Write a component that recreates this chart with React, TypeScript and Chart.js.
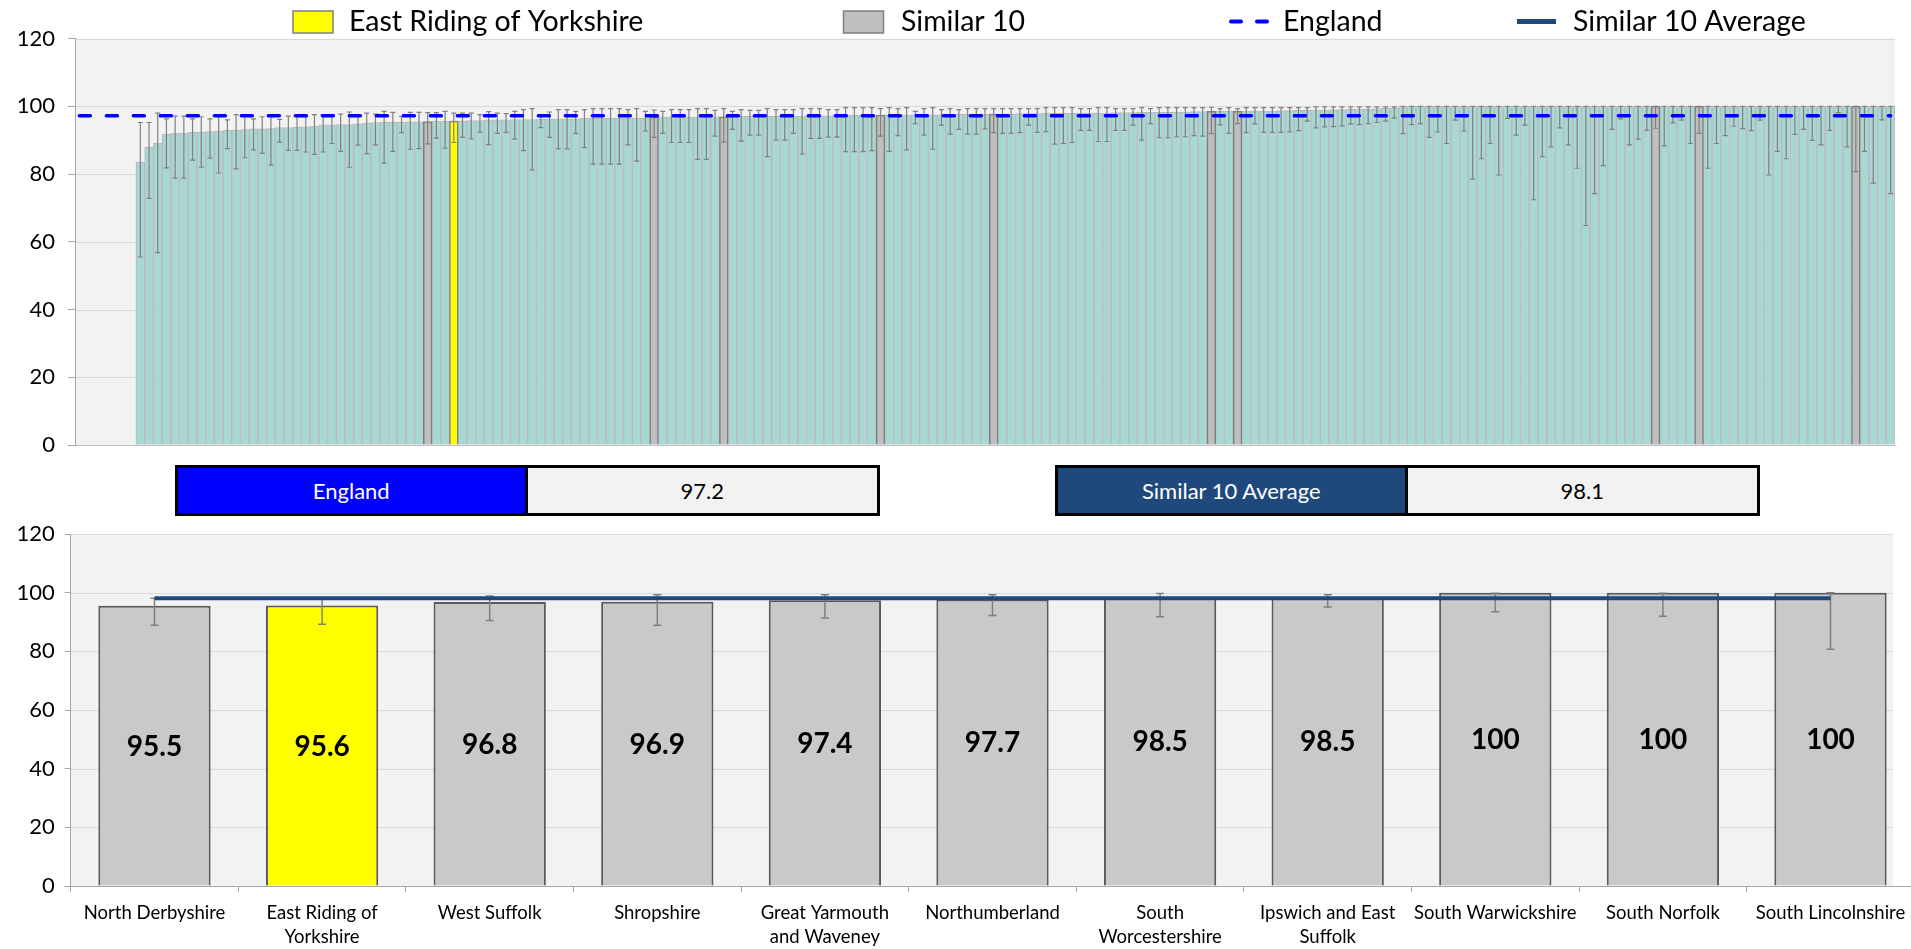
import React, { useEffect, useRef } from "react";
import { Chart, registerables } from "chart.js";

Chart.register(...registerables);

const FONT = "Lato, 'Open Sans', sans-serif";

// ---------------- data ----------------
const englandValue = 97.2;
const similarAverage = 98.1;

// top chart: all areas, sorted ascending (first 7 categories have no data)
const topValues: (number | null)[] = [
  null, null, null, null, null, null, null, 83.5, 87.9, 89.1,
  91.7, 92.0, 92.1, 92.3, 92.4, 92.5, 92.7, 92.9, 93.0, 93.1,
  93.3, 93.3, 93.4, 93.7, 93.7, 93.8, 93.9, 94.1, 94.5, 94.5,
  94.6, 94.6, 94.8, 95.0, 95.2, 95.3, 95.3, 95.3, 95.4, 95.4,
  95.5, 95.6, 95.6, 95.6, 95.7, 95.8, 95.8, 96.0, 96.0, 96.0,
  96.1, 96.1, 96.1, 96.2, 96.2, 96.2, 96.3, 96.3, 96.4, 96.4,
  96.4, 96.4, 96.4, 96.5, 96.5, 96.6, 96.8, 96.8, 96.8, 96.8,
  96.8, 96.8, 96.8, 96.9, 96.9, 96.9, 97.0, 97.0, 97.0, 97.0,
  97.1, 97.1, 97.1, 97.1, 97.2, 97.2, 97.2, 97.2, 97.3, 97.3,
  97.3, 97.3, 97.4, 97.4, 97.4, 97.4, 97.5, 97.5, 97.5, 97.5,
  97.6, 97.6, 97.6, 97.6, 97.7, 97.7, 97.7, 97.7, 97.8, 97.8,
  97.8, 97.9, 97.9, 97.9, 97.9, 98.0, 98.0, 98.0, 98.0, 98.1,
  98.1, 98.1, 98.2, 98.2, 98.2, 98.2, 98.3, 98.3, 98.4, 98.4,
  98.5, 98.5, 98.5, 98.5, 98.6, 98.6, 98.6, 98.6, 98.7, 98.7,
  98.8, 98.8, 98.9, 98.9, 99.0, 99.0, 99.1, 99.2, 99.2, 99.3,
  99.4, 99.5, 100, 100, 100, 100, 100, 100, 100, 100,
  100, 100, 100, 100, 100, 100, 100, 100, 100, 100,
  100, 100, 100, 100, 100, 100, 100, 100, 100, 100,
  100, 100, 100, 100, 100, 100, 100, 100, 100, 100,
  100, 100, 100, 100, 100, 100, 100, 100, 100, 100,
  100, 100, 100, 100, 100, 100, 100, 100, 100,
];

const topLower: (number | null)[] = [
  null, null, null, null, null, null, null, 55.5, 72.8, 56.8,
  81.8, 78.8, 78.8, 84.1, 82.0, 84.7, 80.3, 87.5, 81.5, 84.8,
  87.1, 86.1, 82.6, 89.4, 87.0, 87.0, 86.5, 85.8, 86.5, 89.0,
  86.7, 82.0, 88.5, 86.0, 88.6, 83.2, 86.7, 92.2, 87.3, 87.5,
  88.9, 90.6, 87.6, 89.3, 90.8, 90.4, 92.3, 88.7, 92.0, 92.3,
  90.3, 86.9, 81.2, 93.7, 90.8, 87.4, 87.4, 92.0, 87.8, 82.9,
  82.9, 82.9, 82.9, 88.6, 83.8, 92.7, 90.8, 92.0, 89.3, 89.3,
  89.3, 84.3, 84.3, 91.2, 89.4, 93.2, 89.7, 91.5, 91.5, 85.1,
  90.0, 90.0, 92.0, 85.9, 90.5, 90.5, 90.9, 90.9, 86.6, 86.6,
  86.6, 86.9, 91.2, 86.7, 91.3, 87.1, 94.9, 91.5, 87.3, 94.4,
  91.8, 93.2, 91.8, 91.8, 93.3, 92.2, 92.0, 92.0, 92.2, 94.4,
  92.3, 92.5, 88.8, 89.0, 89.3, 92.9, 92.9, 89.6, 89.6, 92.9,
  92.9, 94.4, 90.0, 94.9, 90.7, 90.7, 91.0, 91.0, 91.3, 91.2,
  91.9, 94.5, 92.0, 94.9, 92.2, 94.8, 92.3, 92.3, 92.3, 92.4,
  92.8, 95.6, 93.6, 93.9, 94.0, 94.2, 94.7, 94.6, 94.9, 95.2,
  95.6, 96.5, 91.9, 94.6, 94.9, 90.8, 92.4, 89.0, 95.9, 92.7,
  78.5, 84.5, 89.0, 79.7, 96.4, 91.5, 94.4, 72.4, 85.1, 88.0,
  93.6, 88.6, 81.7, 64.8, 74.2, 82.5, 93.2, 96.3, 88.6, 90.3,
  92.9, 93.5, 88.3, 95.1, 95.9, 89.0, 92.0, 81.7, 89.0, 91.3,
  94.1, 93.4, 92.8, 95.9, 79.7, 86.7, 84.5, 91.7, 93.2, 89.9,
  88.6, 92.9, 98.1, 88.0, 80.7, 86.7, 77.3, 96.0, 74.2,
];

const topUpper: (number | null)[] = [
  null, null, null, null, null, null, null, 95.2, 95.2, 98.0,
  96.3, 97.1, 97.1, 96.3, 96.9, 96.3, 96.9, 96.0, 97.5, 97.1,
  96.3, 96.9, 97.5, 96.1, 97.1, 97.1, 96.9, 97.5, 97.5, 97.5,
  97.7, 98.3, 97.5, 98.0, 97.7, 98.5, 98.2, 97.0, 98.2, 98.2,
  98.1, 98.1, 98.5, 98.0, 98.0, 98.0, 97.5, 98.4, 98.0, 97.8,
  98.5, 99.0, 99.3, 97.0, 98.3, 99.0, 99.0, 98.5, 99.0, 99.3,
  99.3, 99.3, 99.3, 99.0, 99.3, 98.5, 98.9, 98.5, 99.0, 99.0,
  99.0, 99.3, 99.3, 98.8, 99.3, 98.5, 99.0, 98.8, 98.8, 99.3,
  99.0, 99.0, 99.0, 99.3, 99.3, 99.3, 99.0, 99.0, 99.6, 99.6,
  99.6, 99.6, 99.3, 99.6, 99.3, 99.6, 98.5, 99.3, 99.6, 99.0,
  99.3, 99.0, 99.3, 99.3, 99.3, 99.3, 99.3, 99.3, 99.3, 99.3,
  99.3, 99.6, 99.6, 99.6, 99.6, 99.3, 99.3, 99.6, 99.6, 99.3,
  99.3, 99.3, 99.6, 99.3, 99.6, 99.6, 99.6, 99.6, 99.6, 99.6,
  99.7, 99.3, 99.6, 99.3, 99.6, 99.6, 99.6, 99.6, 99.6, 99.6,
  99.6, 99.6, 99.8, 99.8, 99.8, 99.8, 99.8, 99.8, 99.8, 99.8,
  99.8, 99.8, 100, 100, 100, 100, 100, 100, 100, 100,
  100, 100, 100, 100, 100, 100, 100, 100, 100, 100,
  100, 100, 100, 100, 100, 100, 100, 100, 100, 100,
  100, 100, 100, 100, 100, 100, 100, 100, 100, 100,
  100, 100, 100, 100, 100, 100, 100, 100, 100, 100,
  100, 100, 100, 100, 100, 100, 100, 100, 100,
];

const similarIndexes = [40, 66, 74, 92, 105, 130, 133, 181, 186, 204];
const selectedIndex = 43;

// bottom chart: the similar 10 plus the selected area
const selectedName = "East Riding of Yorkshire";
const bottomLabels: string[][] = [
  ["North Derbyshire"],
  ["East Riding of", "Yorkshire"],
  ["West Suffolk"],
  ["Shropshire"],
  ["Great Yarmouth", "and Waveney"],
  ["Northumberland"],
  ["South", "Worcestershire"],
  ["Ipswich and East", "Suffolk"],
  ["South Warwickshire"],
  ["South Norfolk"],
  ["South Lincolnshire"],
];
const bottomValues = [95.5, 95.6, 96.8, 96.9, 97.4, 97.7, 98.5, 98.5, 100, 100, 100];
const bottomLower = [88.9, 89.2, 90.5, 88.9, 91.4, 92.2, 91.8, 95.1, 93.5, 92.0, 80.7];
const bottomUpper = [98.1, 98.0, 98.9, 99.3, 99.3, 99.3, 99.7, 99.3, 99.8, 99.8, 100];

const legendLabels = ["East Riding of Yorkshire", "Similar 10", "England", "Similar 10 Average"];

// ---------------- colours ----------------
const C_TEAL = "#A7D8D3";
const C_TEAL_BORDER = "#C0B6B9";
const C_GREY = "#BFBFBF";
const C_GREY_BAR = "#C9C9C9";
const C_YELLOW = "#FFFF00";
const C_ENGLAND = "#0000FF";
const C_AVG = "#1F497D";
const C_ERR = "#808080";
const C_PLOT = "#F2F2F2";
const C_GRID = "#D9D9D9";
const C_AXIS = "#A6A6A6";

function plotBackground(maxRight?: number) {
  return {
    id: "plotBg",
    beforeDraw(chart: any) {
      const { ctx, chartArea: a, scales } = chart;
      const right = maxRight ? Math.min(a.right, maxRight) : a.right;
      ctx.save();
      ctx.fillStyle = C_PLOT;
      ctx.fillRect(a.left, a.top, right - a.left, a.bottom - a.top);
      ctx.strokeStyle = C_GRID;
      ctx.lineWidth = 1;
      scales.y.ticks.forEach((t: any) => {
        const py = Math.round(scales.y.getPixelForValue(t.value)) + 0.5;
        ctx.beginPath();
        ctx.moveTo(a.left, py);
        ctx.lineTo(right, py);
        ctx.stroke();
      });
      ctx.restore();
    },
  };
}

function errorBars(lower: (number | null)[], upper: (number | null)[], beforeIndex: number, cap: number, width: number) {
  return {
    id: "errorBars",
    beforeDatasetDraw(chart: any, args: any) {
      if (args.index !== beforeIndex) return;
      const { ctx, scales } = chart;
      const x = scales.x;
      const y = scales.y;
      ctx.save();
      ctx.strokeStyle = C_ERR;
      ctx.lineWidth = width;
      lower.forEach((lo, i) => {
        const hi = upper[i];
        if (lo == null || hi == null) return;
        const px = x.getPixelForValue(i);
        const pl = y.getPixelForValue(lo);
        const ph = y.getPixelForValue(hi);
        ctx.beginPath();
        ctx.moveTo(px, pl);
        ctx.lineTo(px, ph);
        ctx.moveTo(px - cap, pl);
        ctx.lineTo(px + cap, pl);
        ctx.moveTo(px - cap, ph);
        ctx.lineTo(px + cap, ph);
        ctx.stroke();
      });
      ctx.restore();
    },
  };
}

const topLegend = {
  id: "topLegend",
  afterDraw(chart: any) {
    const ctx = chart.ctx;
    const cy = 21.5;
    ctx.save();
    ctx.fillStyle = C_YELLOW;
    ctx.fillRect(293, 11, 40, 22);
    ctx.strokeStyle = "#7F7F7F";
    ctx.lineWidth = 1.5;
    ctx.strokeRect(293, 11, 40, 22);
    ctx.fillStyle = C_GREY;
    ctx.fillRect(843.5, 11, 40, 22);
    ctx.strokeRect(843.5, 11, 40, 22);
    ctx.strokeStyle = C_ENGLAND;
    ctx.lineWidth = 4;
    ctx.lineCap = "round";
    ctx.beginPath();
    ctx.moveTo(1231, cy);
    ctx.lineTo(1241, cy);
    ctx.moveTo(1257, cy);
    ctx.lineTo(1267, cy);
    ctx.stroke();
    ctx.strokeStyle = C_AVG;
    ctx.lineWidth = 5;
    ctx.lineCap = "butt";
    ctx.beginPath();
    ctx.moveTo(1517, cy);
    ctx.lineTo(1556, cy);
    ctx.stroke();
    ctx.fillStyle = "#000";
    ctx.font = `28.5px ${FONT}`;
    ctx.textBaseline = "middle";
    ctx.textAlign = "left";
    const xs = [349, 901, 1283, 1573];
    legendLabels.forEach((t, i) => ctx.fillText(t, xs[i], cy));
    ctx.restore();
  },
};

const barValueLabels = {
  id: "barValueLabels",
  afterDatasetsDraw(chart: any) {
    const meta = chart.getDatasetMeta(1);
    const ctx = chart.ctx;
    ctx.save();
    ctx.font = `bold 28px ${FONT}`;
    ctx.fillStyle = "#000";
    ctx.textAlign = "center";
    ctx.textBaseline = "middle";
    meta.data.forEach((el: any, i: number) => {
      ctx.fillText(String(bottomValues[i]), el.x, (el.y + el.base) / 2 + 1);
    });
    ctx.restore();
  },
};

function fixedWidth(w: number) {
  return (s: any) => {
    s.width = w;
    s.paddingTop = 0;
    s.paddingBottom = 0;
  };
}
function fixedHeight(h: number) {
  return (s: any) => {
    s.height = h;
    s.paddingLeft = 0;
    s.paddingRight = 0;
  };
}

export default function App() {
  const topRef = useRef<HTMLCanvasElement>(null);
  const botRef = useRef<HTMLCanvasElement>(null);

  useEffect(() => {
    const topLabels = topValues.map((_, i) => `Area ${i + 1}`);
    const pick = (keep: (i: number) => boolean) => topValues.map((v, i) => (keep(i) ? v : null));
    const isSimilar = (i: number) => similarIndexes.includes(i);

    const barCommon = { grouped: false, barPercentage: 1, categoryPercentage: 1 };

    const top = new Chart(topRef.current as HTMLCanvasElement, {
      type: "bar",
      data: {
        labels: topLabels,
        datasets: [
          {
            type: "line",
            label: "England",
            data: topLabels.map(() => englandValue),
            borderColor: C_ENGLAND,
            borderWidth: 3.5,
            borderDash: [11, 16],
            borderCapStyle: "round",
            pointRadius: 0,
            fill: false,
            order: 0,
          } as any,
          {
            label: "East Riding of Yorkshire",
            data: pick((i) => i === selectedIndex),
            backgroundColor: C_YELLOW,
            borderColor: "#7F7F7F",
            borderWidth: 1.5,
            order: 1,
            ...barCommon,
          },
          {
            label: "Similar 10",
            data: pick(isSimilar),
            backgroundColor: C_GREY,
            borderColor: "#7F7F7F",
            borderWidth: 1.5,
            order: 1,
            ...barCommon,
          },
          {
            label: "All areas",
            data: pick((i) => i !== selectedIndex && !isSimilar(i)),
            backgroundColor: C_TEAL,
            borderColor: C_TEAL_BORDER,
            borderWidth: 1,
            order: 1,
            ...barCommon,
          },
        ],
      },
      options: {
        responsive: false,
        animation: false,
        devicePixelRatio: 1,
        layout: { padding: { left: 0, right: 16, top: 38.5, bottom: 15 } },
        plugins: { legend: { display: false }, tooltip: { enabled: false } },
        scales: {
          x: {
            offset: true,
            ticks: { display: false },
            grid: { display: false },
            border: { display: true, color: "#BFBFBF", width: 1 },
            afterFit: fixedHeight(0),
          },
          y: {
            min: 0,
            max: 120,
            ticks: { stepSize: 20, color: "#000", font: { family: FONT, size: 22 }, padding: 13 },
            grid: { drawOnChartArea: false, drawTicks: true, tickLength: 7, tickColor: C_AXIS },
            border: { display: true, color: C_AXIS, width: 1 },
            afterFit: fixedWidth(75),
          },
        },
      } as any,
      plugins: [plotBackground(), errorBars(topLower, topUpper, 0, 2.5, 1.2), topLegend],
    });

    const bottomColors = bottomLabels.map((l) => (l.join(" ") === selectedName ? C_YELLOW : C_GREY_BAR));

    const bot = new Chart(botRef.current as HTMLCanvasElement, {
      type: "bar",
      data: {
        labels: bottomLabels as any,
        datasets: [
          {
            type: "line",
            label: "Similar 10 Average",
            data: bottomLabels.map(() => similarAverage),
            borderColor: C_AVG,
            borderWidth: 4,
            pointRadius: 0,
            fill: false,
            order: 0,
          } as any,
          {
            label: "Value",
            data: bottomValues,
            backgroundColor: bottomColors,
            borderColor: "#595959",
            borderWidth: 2,
            barPercentage: 0.67,
            categoryPercentage: 1,
            order: 1,
          },
        ],
      },
      options: {
        responsive: false,
        animation: false,
        devicePixelRatio: 1,
        layout: { padding: { left: 0, right: 15.7, top: 14, bottom: 0 } },
        plugins: { legend: { display: false }, tooltip: { enabled: false } },
        scales: {
          x: {
            offset: true,
            ticks: {
              color: "#000",
              font: { family: FONT, size: 18.5, lineHeight: 1.3 },
              padding: 9,
              maxRotation: 0,
              minRotation: 0,
              autoSkip: false,
            },
            grid: { drawOnChartArea: false, drawTicks: true, tickLength: 6, tickColor: C_AXIS, offset: true },
            border: { display: true, color: C_AXIS, width: 1 },
            afterFit: fixedHeight(63),
          },
          y: {
            min: 0,
            max: 120,
            ticks: { stepSize: 20, color: "#000", font: { family: FONT, size: 22 }, padding: 10 },
            grid: { drawOnChartArea: false, drawTicks: true, tickLength: 6, tickColor: C_AXIS },
            border: { display: true, color: C_AXIS, width: 1 },
            afterFit: fixedWidth(70.7),
          },
        },
      } as any,
      plugins: [plotBackground(1893), errorBars(bottomLower, bottomUpper, 0, 4, 1.5), barValueLabels],
    });

    return () => {
      top.destroy();
      bot.destroy();
    };
  }, []);

  const boxBase: React.CSSProperties = {
    position: "absolute",
    top: 465,
    width: 705,
    height: 51,
    border: "3px solid #000",
    boxSizing: "border-box",
    display: "flex",
    fontFamily: FONT,
    fontSize: 22,
  };
  const half: React.CSSProperties = {
    flex: "0 0 50%",
    display: "flex",
    alignItems: "center",
    justifyContent: "center",
    boxSizing: "border-box",
  };

  return (
    <div
      style={{
        position: "absolute",
        left: 0,
        top: 0,
        width: 1911,
        height: 949,
        overflow: "hidden",
        background: "#fff",
      }}
    >
      <canvas ref={topRef} width={1911} height={460} style={{ position: "absolute", left: 0, top: 0 }} />
      <div style={{ ...boxBase, left: 175 }}>
        <div style={{ ...half, background: C_ENGLAND, color: "#fff", borderRight: "3px solid #000" }}>England</div>
        <div style={{ ...half, flex: "1 1 auto", background: C_PLOT, color: "#000" }}>{englandValue.toFixed(1)}</div>
      </div>
      <div style={{ ...boxBase, left: 1055 }}>
        <div style={{ ...half, background: C_AVG, color: "#fff", borderRight: "3px solid #000" }}>Similar 10 Average</div>
        <div style={{ ...half, flex: "1 1 auto", background: C_PLOT, color: "#000" }}>{similarAverage.toFixed(1)}</div>
      </div>
      <canvas ref={botRef} width={1930} height={429} style={{ position: "absolute", left: 0, top: 520 }} />
    </div>
  );
}
